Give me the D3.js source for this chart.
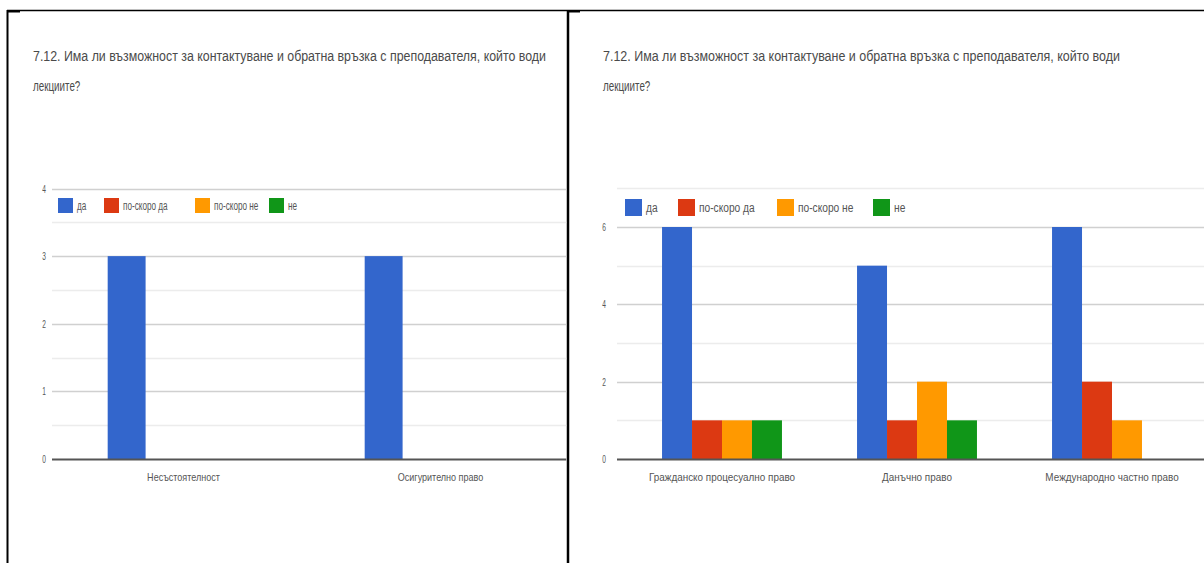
<!DOCTYPE html>
<html>
<head>
<meta charset="utf-8">
<script src="https://cdn.jsdelivr.net/npm/d3@7"></script>
<style>
  body { margin: 0; background: #fff; }
  svg { display: block; font-family: "Liberation Sans", Arial, sans-serif; }
</style>
</head>
<body>
<svg width="1204" height="563"></svg>
<script>
// данни от картинката
const titleLine1 = "7.12. Има ли възможност за контактуване и обратна връзка с преподавателя, който води";
const titleLine2 = "лекциите?";
const seriesNames = ["да", "по-скоро да", "по-скоро не", "не"];

const leftCategories = ["Несъстоятелност", "Осигурително право"];
const leftValues = [
  [3, 0, 0, 0],
  [3, 0, 0, 0],
];
const leftTicks = [0, 1, 2, 3, 4];

const rightCategories = ["Гражданско процесуално право", "Данъчно право", "Международно частно право"];
const rightValues = [
  [6, 1, 1, 1],
  [5, 1, 2, 1],
  [6, 2, 1, 0],
];
const rightTicks = [0, 2, 4, 6];

// цветове (стил)
const colors = ["#3366cc", "#dc3912", "#ff9900", "#109618"];

const svg = d3.select("svg");

// свиване на текста по ширина (картинката е сплескана)
function squeeze(sel, k) {
  sel.each(function () {
    const w = this.getComputedTextLength();
    d3.select(this).attr("textLength", w * k).attr("lengthAdjust", "spacingAndGlyphs");
  });
}

/*----------- рамка на таблицата -----------*/
svg.append("line").attr("x1", 7).attr("x2", 1204).attr("y1", 10.5).attr("y2", 10.5)
  .attr("stroke", "#000").attr("stroke-width", 1.5);
svg.append("line").attr("x1", 7.5).attr("x2", 7.5).attr("y1", 10).attr("y2", 563)
  .attr("stroke", "#000").attr("stroke-width", 2);
svg.append("line").attr("x1", 568).attr("x2", 568).attr("y1", 10).attr("y2", 563)
  .attr("stroke", "#000").attr("stroke-width", 2.5);
svg.append("line").attr("x1", 7).attr("x2", 20).attr("y1", 11.5).attr("y2", 11.5)
  .attr("stroke", "#000").attr("stroke-width", 2);
svg.append("line").attr("x1", 567).attr("x2", 580).attr("y1", 11.5).attr("y2", 11.5)
  .attr("stroke", "#000").attr("stroke-width", 2);

function drawPanel(cfg) {
  const g = svg.append("g");
  const clipId = "clip" + cfg.id;
  svg.append("clipPath").attr("id", clipId)
    .append("rect").attr("x", cfg.gridX0).attr("y", 0)
    .attr("width", cfg.gridX1 - cfg.gridX0).attr("height", 563);

  // заглавие
  g.append("text").attr("x", cfg.titleX).attr("y", 61)
    .attr("font-size", 14).attr("fill", "#4a4a4a").text(titleLine1)
    .attr("textLength", cfg.titleW).attr("lengthAdjust", "spacingAndGlyphs");
  const t2 = g.append("text").attr("x", cfg.titleX).attr("y", 91)
    .attr("font-size", 14).attr("fill", "#4a4a4a").text(titleLine2);
  squeeze(t2, 0.7);

  const y = d3.scaleLinear().domain([0, cfg.yMax]).range([459, cfg.yTop]);
  const x0 = d3.scaleBand().domain(cfg.categories).range(cfg.xRange)
    .paddingInner(cfg.pad).paddingOuter(cfg.pad / 2);
  const x1 = d3.scaleBand().domain(d3.range(seriesNames.length)).range([0, x0.bandwidth()]);

  // решетка
  const grid = g.append("g").attr("clip-path", "url(#" + clipId + ")");
  grid.selectAll("line.minor").data(cfg.minor).enter().append("line")
    .attr("x1", cfg.gridX0).attr("x2", cfg.gridX1)
    .attr("y1", (d) => Math.round(y(d)) + 0.5).attr("y2", (d) => Math.round(y(d)) + 0.5)
    .attr("stroke", "#ececec").attr("stroke-width", 1.5);
  grid.selectAll("line.major").data(cfg.ticks.slice(1)).enter().append("line")
    .attr("x1", cfg.gridX0).attr("x2", cfg.gridX1)
    .attr("y1", (d) => Math.round(y(d)) + 0.5).attr("y2", (d) => Math.round(y(d)) + 0.5)
    .attr("stroke", "#d0d0d0").attr("stroke-width", 1.5);

  // стълбове
  const groups = grid.selectAll("g.cat").data(cfg.values).enter().append("g")
    .attr("transform", (d, i) => "translate(" + x0(cfg.categories[i]) + ",0)");
  groups.selectAll("rect").data((d) => d.map((v, j) => ({ v, j }))).enter()
    .filter((d) => d.v > 0)
    .append("rect")
    .attr("x", (d) => x1(d.j)).attr("width", x1.bandwidth())
    .attr("y", (d) => y(d.v)).attr("height", (d) => 459 - y(d.v))
    .attr("fill", (d) => colors[d.j]);

  // базова линия
  grid.append("line").attr("x1", cfg.gridX0).attr("x2", cfg.gridX1)
    .attr("y1", 459.5).attr("y2", 459.5).attr("stroke", "#555").attr("stroke-width", 2);

  // ос Y
  const yAxis = g.append("g").attr("transform", "translate(" + cfg.yAxisX + ",0)")
    .call(d3.axisLeft(y).tickValues(cfg.ticks).tickSize(0).tickPadding(0).tickFormat(d3.format("d")));
  yAxis.select(".domain").remove();
  yAxis.selectAll("text").attr("font-size", 11).attr("fill", "#555")
    .attr("font-family", "Liberation Sans, Arial, sans-serif").call(squeeze, 0.6);

  // ос X
  const xAxis = g.append("g").attr("transform", "translate(0,459)")
    .call(d3.axisBottom(x0).tickSize(0).tickPadding(14));
  xAxis.select(".domain").remove();
  xAxis.selectAll("text").attr("font-size", 11).attr("fill", "#555")
    .attr("font-family", "Liberation Sans, Arial, sans-serif").call(squeeze, cfg.labelK);

  // легенда
  const leg = g.selectAll("g.leg").data(seriesNames).enter().append("g")
    .attr("transform", (d, i) => "translate(" + cfg.legendX[i] + "," + cfg.legendY + ")");
  leg.append("rect").attr("width", cfg.legSize).attr("height", cfg.legSize)
    .attr("fill", (d, i) => colors[i]);
  leg.append("text").attr("x", cfg.legSize + 4).attr("y", cfg.legSize / 2).attr("dy", "0.35em")
    .attr("font-size", 12).attr("fill", "#555").text((d) => d)
    .call(squeeze, cfg.legK);
}

drawPanel({
  id: "L",
  categories: leftCategories, values: leftValues, ticks: leftTicks,
  minor: d3.range(0.5, 4, 1), yMax: 4, yTop: 188.5,
  xRange: [55, 569], pad: 0.41,
  gridX0: 52, gridX1: 566.5, yAxisX: 46,
  titleX: 33, titleW: 513,
  labelK: 0.82, legK: 0.68,
  legendX: [58, 104, 195, 269], legendY: 198, legSize: 15,
});

drawPanel({
  id: "R",
  categories: rightCategories, values: rightValues, ticks: rightTicks,
  minor: [1, 3, 5, 7], yMax: 6, yTop: 227,
  xRange: [624.5, 1209.5], pad: 0.385,
  gridX0: 617, gridX1: 1204, yAxisX: 606,
  titleX: 603, titleW: 517,
  labelK: 0.9, legK: 0.85,
  legendX: [625, 678, 777, 873], legendY: 199, legSize: 17,
});
</script>
</body>
</html>
